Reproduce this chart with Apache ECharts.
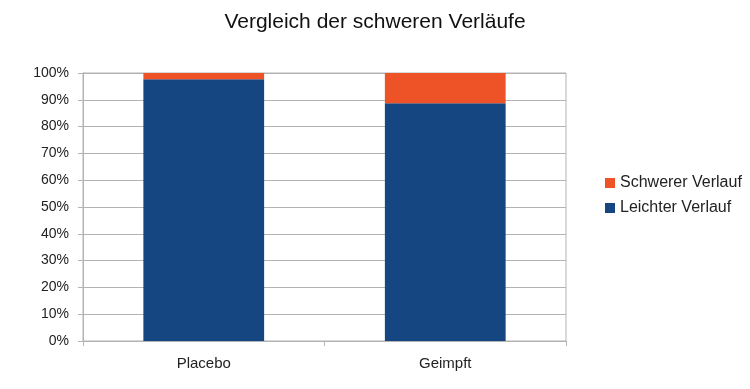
<!DOCTYPE html>
<html><head><meta charset="utf-8">
<script src="https://cdn.jsdelivr.net/npm/echarts@6/dist/echarts.min.js"></script>
<style>html,body{margin:0;padding:0;background:#fff}#c{width:750px;height:389px}</style>
</head><body><div id="c"></div>
<script>
const categories = ['Placebo', 'Geimpft'];
const leichter = [97.7, 88.7];
const schwerer = [2.3, 11.3];
const yTicks = [0, 10, 20, 30, 40, 50, 60, 70, 80, 90, 100];

const chart = echarts.init(document.getElementById('c'));
const font = '"Liberation Sans", Arial, sans-serif';
chart.setOption({
  animation: false,
  title: { text: 'Vergleich der schweren Verläufe', left: 'center', top: 7,
    textStyle: { fontFamily: font, fontWeight: 'normal', fontSize: 21, color: '#111' } },
  legend: { orient: 'vertical', left: 600, top: 170, itemWidth: 10, itemHeight: 10, itemGap: 9,
    icon: 'rect', data: ['Schwerer Verlauf', 'Leichter Verlauf'],
    textStyle: { fontFamily: font, fontSize: 16, color: '#222' } },
  grid: { left: 83, right: 184, top: 73, bottom: 48, containLabel: false,
    show: true, borderColor: '#b3b3b3', borderWidth: 1, backgroundColor: 'transparent' },
  xAxis: { type: 'category', data: categories,
    axisLine: { lineStyle: { color: '#b3b3b3' } },
    axisTick: { show: true, alignWithLabel: false, length: 5, lineStyle: { color: '#b3b3b3' } },
    axisLabel: { fontFamily: font, fontSize: 15, color: '#222', margin: 15 },
    splitLine: { show: false } },
  yAxis: { type: 'value', min: 0, max: 100, interval: 10,
    axisLine: { show: true, lineStyle: { color: '#b3b3b3' } },
    axisTick: { show: true, length: 5, lineStyle: { color: '#b3b3b3' } },
    axisLabel: { fontFamily: font, fontSize: 14, color: '#222', margin: 14,
      formatter: v => yTicks.includes(v) ? v + '%' : '' },
    splitLine: { lineStyle: { color: '#b3b3b3' } } },
  series: [
    { name: 'Leichter Verlauf', type: 'bar', stack: 's', data: leichter, barWidth: '50%',
      itemStyle: { color: '#164682' } },
    { name: 'Schwerer Verlauf', type: 'bar', stack: 's', data: schwerer, barWidth: '50%',
      itemStyle: { color: '#ee5328' } }
  ]
});
</script></body></html>
